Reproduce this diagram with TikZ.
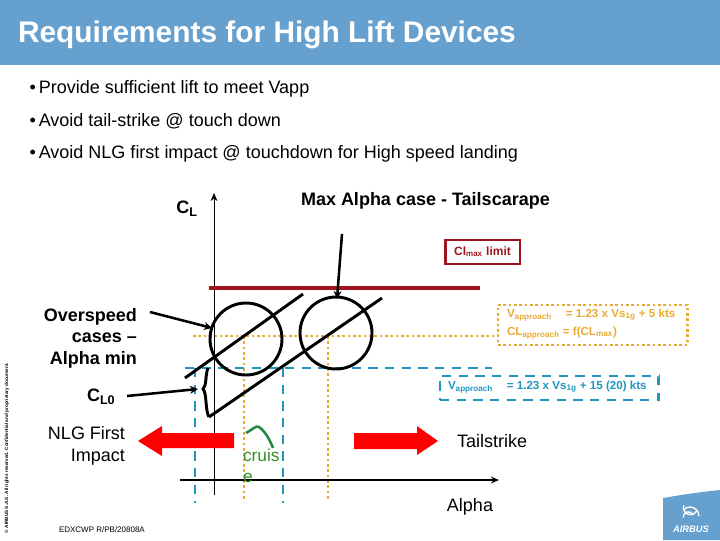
\documentclass[tikz,border=0pt]{standalone}
\usepackage{fontspec}
\setmainfont{Liberation Sans}
\usetikzlibrary{positioning,arrows.meta}
\definecolor{headblue}{RGB}{101,160,206}
\definecolor{limitred}{RGB}{160,20,30}
\definecolor{apporange}{RGB}{232,170,50}
\definecolor{appteal}{RGB}{30,150,190}
\definecolor{cruisgreen}{RGB}{50,140,40}
\tikzset{
  px/.style={inner sep=0pt,outer sep=0pt},
  bullet/.style={px,anchor=base west,font=\fontsize{13.5}{15}\selectfont},
  bigtext/.style={px,font=\fontsize{13.5}{16}\selectfont},
  boldtext/.style={px,font=\fontsize{13.5}{16}\selectfont\bfseries},
  thick black/.style={draw=black,line width=2.2pt},
  pointer/.style={draw=black,line width=1.9pt,-{Stealth[length=6pt,width=6pt]}},
  axis/.style={draw=black,-{Stealth[length=6pt,width=5pt]}},
  orangeline/.style={draw=apporange,line width=2.2pt,dash pattern=on 2pt off 2pt},
  tealline/.style={draw=appteal,line width=2.2pt,dash pattern=on 7pt off 5.5pt},
  smalllabel/.style={px,anchor=west,font=\fontsize{8.7}{10}\selectfont\bfseries},
  redarrow/.style={fill=red,draw=none},
}
\begin{document}
\begin{tikzpicture}[x=0.75pt,y=-0.75pt]
  \useasboundingbox (0,0) rectangle (720,540);
  % header
  \fill[headblue] (0,0) rectangle (720,65);
  \node[px,anchor=base west,text=white,font=\fontsize{22.4}{24}\selectfont\bfseries] (title) at (18,42) {Requirements for High Lift Devices};
  % bullets
  \node[bullet] (b1) at (29.5,93) {•\,Provide sufficient lift to meet Vapp};
  \node[bullet] (b2) at (29.5,126) {•\,Avoid tail-strike @ touch down};
  \node[bullet] (b3) at (29.5,158) {•\,Avoid NLG first impact @ touchdown for High speed landing};
  % guide lines
  \node[px,orangeline,minimum width=142pt,minimum height=30pt,anchor=north west] (vorange) at (498,305) {};
  \node[smalllabel,text=apporange] (vo1) at (507,315) {V\textsubscript{approach}\hspace{1.2em}= 1.23 x Vs\textsubscript{1g} + 5 kts};
  \node[smalllabel,text=apporange] (vo2) at (507,333) {CL\textsubscript{approach} = f(CL\textsubscript{max})};
  \node[px,tealline,minimum width=164pt,minimum height=18pt,anchor=north west] (vteal) at (440,376) {};
  \node[smalllabel,text=appteal] (vt1) at (448,387) {V\textsubscript{approach}\hspace{1.2em}= 1.23 x Vs\textsubscript{1g} + 15 (20) kts};
  \coordinate (ol) at (193,336);
  \coordinate (o1) at (244,336);
  \coordinate (o1b) at (244,500);
  \coordinate (o2) at (328,336);
  \coordinate (o2b) at (328,500);
  \coordinate (tl) at (185,368);
  \coordinate (tr) at (492,368);
  \coordinate (t1) at (195,368);
  \coordinate (t1b) at (195,503);
  \coordinate (t2) at (283,368);
  \coordinate (t2b) at (283,503);
  \draw[orangeline] (ol) -- (vorange.west |- ol);
  \draw[orangeline] (o1) -- (o1b);
  \draw[orangeline] (o2) -- (o2b);
  \draw[tealline] (tl) -- (tr);
  \draw[tealline] (t1) -- (t1b);
  \draw[tealline] (t2) -- (t2b);
  % axes
  \coordinate (yb) at (214,495);
  \coordinate (yt) at (214,193);
  \coordinate (xl) at (180,480);
  \coordinate (xr) at (499,480);
  \draw[axis] (yb) -- (yt);
  \draw[axis,line width=1.2pt] (xl) -- (xr);
  \node[boldtext] (cl) at (187,209) {C\textsubscript{L}};
  \node[bigtext] (alpha) at (470,507) {Alpha};
  % limit
  \coordinate (ll) at (209,288);
  \coordinate (lr) at (480,288);
  \draw[draw=limitred,line width=2.4pt] (ll) -- (lr);
  \node[px,draw=limitred,line width=2pt,text=limitred,minimum width=56pt,minimum height=18pt,
    font=\fontsize{9}{10}\selectfont\bfseries] (clmax) at (482.5,252) {Cl\textsubscript{max} limit};
  % circles and lift curves
  \node[circle,draw=black,line width=2.2pt,minimum size=54pt,px] (c1) at (246,339) {};
  \node[circle,draw=black,line width=2.2pt,minimum size=54pt,px] (c2) at (336,333) {};
  \coordinate (s1) at (185,378);
  \coordinate (e1) at (303,294);
  \coordinate (s2) at (209,417);
  \coordinate (e2) at (382,298);
  \draw[thick black] (s1) -- (e1);
  \draw[thick black] (s2) -- (e2);
  % brace
  \draw[thick black] (208,368) .. controls (205,375) and (207,385) .. (203,389) .. controls (207,393) and (205,410) .. (209,417);
  % labels with arrows
  \node[boldtext,anchor=west] (maxa) at (301,201) {Max Alpha case - Tailscarape};
  \coordinate (ma) at (342,234);
  \coordinate (mb) at (337,299);
  \draw[pointer] (ma) -- (mb);
  \node[boldtext,align=right,anchor=north east,font=\fontsize{13.5}{16.2}\selectfont\bfseries] (over) at (137,308) {Overspeed\\cases --\\Alpha min};
  \coordinate (ova) at (150,312);
  \coordinate (ovb) at (212,328);
  \draw[pointer] (ova) -- (ovb);
  \node[boldtext,anchor=west] (cl0) at (87,397) {C\textsubscript{L0}};
  \coordinate (cla) at (127,396);
  \coordinate (clb) at (198,389);
  \draw[pointer] (cla) -- (clb);
  % impact arrows
  \node[bigtext,align=right,anchor=north east,font=\fontsize{13.5}{16.5}\selectfont] (nlg) at (125,426) {NLG First\\Impact};
  \fill[redarrow] (234,433) -- (162,433) -- (162,426) -- (138,441) -- (162,456) -- (162,448) -- (234,448) -- cycle;
  \fill[redarrow] (354,433) -- (417,433) -- (417,426) -- (438,441) -- (417,455) -- (417,449) -- (354,449) -- cycle;
  \node[bigtext,anchor=west] (tail) at (457,441) {Tailstrike};
  % cruise
  \coordinate (ga) at (246,433);
  \coordinate (gb) at (273,448);
  \draw[draw=cruisgreen!70!teal,line width=1.9pt] (ga) .. controls (252,430) and (256,425) .. (259,427) .. controls (265,431) and (270,440) .. (gb);
  \node[px,text=cruisgreen,font=\fontsize{13}{16}\selectfont,anchor=base west] (cruis) at (243,461) {cruis};
  \node[px,text=cruisgreen,font=\fontsize{13}{16}\selectfont,anchor=base west] (cruise) at (243,482) {e};
  % footer
  \node[px,anchor=west,font=\fontsize{6}{8}\selectfont] (ref) at (59,530) {EDXCWP R/PB/20808A};
  \node[px,rotate=90,anchor=west,font=\fontsize{3.5}{5}\selectfont\bfseries] (conf) at (7,533) {© AIRBUS S.A.S. All rights reserved. Confidential and proprietary document.};
  \fill[headblue] (663,498) .. controls (680,495) and (700,492) .. (720,490) -- (720,540) -- (663,540) -- cycle;
  \draw[white,line width=1pt] (697,510) arc (20:200:7);
  \draw[white,line width=1pt] (693,515) arc (-20:-190:5);
  \draw[white,line width=1pt] (699,516) arc (0:-140:9);
  \node[px,text=white,font=\fontsize{7}{8}\selectfont\bfseries\itshape] (logo) at (691,529) {AIRBUS};
\end{tikzpicture}
\end{document}
